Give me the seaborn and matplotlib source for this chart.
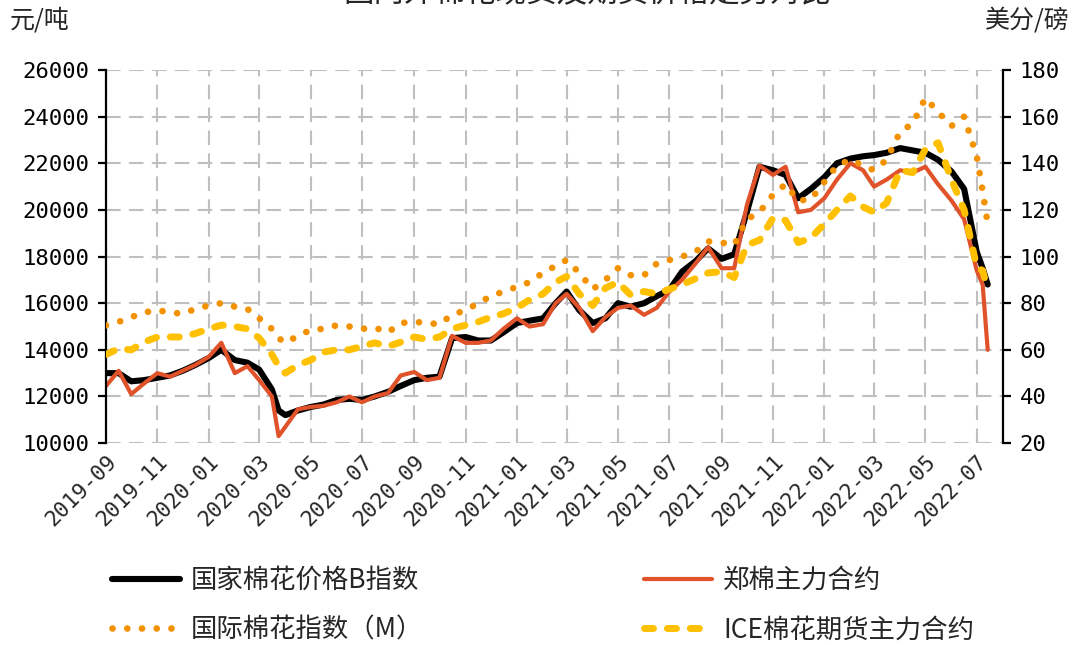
import pandas as pd
import numpy as np
import matplotlib
matplotlib.use('Agg')
import matplotlib.pyplot as plt
import matplotlib.dates as mdates
import seaborn as sns

# 日期（半月一个点，几处急变处加点）
datas = [
    '2019-09-01', '2019-09-16', '2019-10-01', '2019-10-16', '2019-11-01', '2019-11-16',
    '2019-12-01', '2019-12-16', '2020-01-01', '2020-01-16', '2020-02-01', '2020-02-16',
    '2020-03-01', '2020-03-16', '2020-03-24', '2020-04-01', '2020-04-16', '2020-05-01',
    '2020-05-16', '2020-06-01', '2020-06-16', '2020-07-01', '2020-07-16', '2020-08-01',
    '2020-08-16', '2020-09-01', '2020-09-16', '2020-10-01', '2020-10-16', '2020-11-01',
    '2020-11-16', '2020-12-01', '2020-12-16', '2021-01-01', '2021-01-16', '2021-02-01',
    '2021-02-16', '2021-03-01', '2021-03-16', '2021-04-01', '2021-04-16', '2021-05-01',
    '2021-05-16', '2021-06-01', '2021-06-16', '2021-07-01', '2021-07-16', '2021-08-01',
    '2021-08-16', '2021-09-01', '2021-09-16', '2021-10-01', '2021-10-16', '2021-11-01',
    '2021-11-16', '2021-12-01', '2021-12-16', '2022-01-01', '2022-01-16', '2022-02-01',
    '2022-02-16', '2022-03-01', '2022-03-16', '2022-04-01', '2022-04-16', '2022-05-01',
    '2022-05-16', '2022-06-01', '2022-06-16', '2022-07-01', '2022-07-08', '2022-07-14',
]

# 国家棉花价格B指数（元/吨）
indice_b = [
    13000, 13000, 12650, 12700, 12800, 12900, 13100, 13350, 13650, 14000, 13560, 13450,
    13150, 12300, 11400, 11200, 11400, 11550, 11650, 11850, 11900, 11850, 12000, 12200,
    12450, 12700, 12800, 12850, 14500, 14550, 14400, 14400, 14750, 15150, 15250, 15350,
    16000, 16500, 15700, 15150, 15350, 16000, 15850, 16000, 16300, 16570, 17350, 17800,
    18350, 17900, 18100, 19900, 21850, 21700, 21500, 20500, 20900, 21400, 22000, 22200,
    22300, 22350, 22450, 22650, 22550, 22450, 22150, 21650, 20900, 18200, 17500, 16800,
]

# 郑棉主力合约（元/吨）
zhengmian = [
    12450, 13100, 12100, 12550, 13000, 12850, 13100, 13350, 13700, 14300, 13000, 13300,
    12700, 12000, 10300, 10700, 11450, 11550, 11600, 11750, 12000, 11750, 12000, 12150,
    12900, 13050, 12700, 12800, 14600, 14300, 14300, 14400, 14900, 15350, 15000, 15100,
    16000, 16400, 15800, 14800, 15400, 15800, 15900, 15500, 15800, 16500, 17000, 17700,
    18400, 17500, 17500, 20200, 21900, 21500, 21850, 19900, 20000, 20500, 21300, 22000,
    21700, 21000, 21300, 21700, 21600, 21850, 21100, 20400, 19600, 17400, 16800, 14000,
]

# 国际棉花指数（M）（美分/磅）
indice_m = [
    70.5, 72, 74, 76, 77, 76, 75.5, 77.5, 79, 80, 78.5, 77.5,
    73.5, 69, 65, 63, 66, 68.5, 69, 70.5, 70, 69, 69.5, 67.5,
    71.5, 72, 71.5, 71, 75, 77, 80, 83, 85, 87, 89, 93,
    96, 98.5, 93, 86, 90, 95, 92, 92, 97, 98.5, 100, 102,
    106.5, 106, 105, 116, 119, 126.5, 131, 124, 124.5, 132, 139, 141.5,
    139, 137, 141.5, 153.5, 157, 168, 162, 156, 160, 143, 128, 114,
]

# ICE棉花期货主力合约（美分/磅）
ice = [
    58, 60.5, 60, 63.3, 65.5, 65.5, 65.5, 67, 69, 70.6, 70, 69,
    65, 58, 53, 50, 53.5, 55.6, 59, 60, 60, 61.5, 63, 61.5,
    63.3, 65.5, 64.5, 65.5, 69, 70.6, 72, 74, 75.5, 78, 81.5, 84,
    89, 91.5, 84, 79, 86.5, 89, 83.5, 85, 84, 86, 88, 90.5,
    93, 93.5, 91, 105, 107, 116.5, 115.5, 106, 108, 114, 120, 126,
    121.3, 119, 123, 137, 136, 146, 148.8, 133, 120, 95.5, 94, 85.7,
]

df = pd.DataFrame({
    'data': pd.to_datetime(datas),
    'b': indice_b,
    'zm': zhengmian,
    'm': indice_m,
    'ice': ice,
})

sns.set_theme(style="white")
plt.rcParams['font.family'] = ['Noto Sans CJK SC', 'DejaVu Sans']
fonte_num = 'DejaVu Sans Mono'

fig = plt.figure(figsize=(10.78, 6.45), dpi=100)
ax = fig.add_axes([0.0983, 0.313, 0.832, 0.5785])
ax2 = ax.twinx()

# eixo principal: B指数 e 郑棉
sns.lineplot(data=df, x='data', y='b', ax=ax, color='black', lw=4.4,
             solid_capstyle='round', label='国家棉花价格B指数', legend=False)
sns.lineplot(data=df, x='data', y='zm', ax=ax, color='#E0522A', lw=3.0,
             solid_capstyle='round', label='郑棉主力合约', legend=False)

# eixo secundário: M指数 e ICE
sns.lineplot(data=df, x='data', y='m', ax=ax2, color='#F39200', lw=4.8,
             linestyle=(0, (0.01, 2.2)), dash_capstyle='round',
             label='国际棉花指数（M）', legend=False)
sns.lineplot(data=df, x='data', y='ice', ax=ax2, color='#FFC000', lw=5,
             linestyle=(0, (1.3, 2.0)), dash_capstyle='round',
             label='ICE棉花期货主力合约', legend=False)

ax.set_ylim(10000, 26000)
ax.set_yticks(np.arange(10000, 26001, 2000))
ax2.set_ylim(20, 180)
ax2.set_yticks(np.arange(20, 181, 20))
ax.set_xlim(pd.Timestamp('2019-09-01'), pd.Timestamp('2022-08-01'))
ax.xaxis.set_major_locator(mdates.MonthLocator(bymonth=[1, 3, 5, 7, 9, 11]))
ax.xaxis.set_major_formatter(mdates.DateFormatter('%Y-%m'))

ax.grid(True, ls=(0, (7, 4)), color='#BFBFBF', lw=1.5)
ax.set_axisbelow(True)
ax.set_xlabel('')
ax.set_ylabel('')
ax2.set_ylabel('')

for a in (ax, ax2):
    for s in ('top', 'bottom', 'left', 'right'):
        a.spines[s].set_visible(False)
ax.spines['left'].set_visible(True)
ax.spines['left'].set_color('black')
ax.spines['left'].set_linewidth(1.6)
ax2.spines['right'].set_visible(True)
ax2.spines['right'].set_color('black')
ax2.spines['right'].set_linewidth(1.6)

ax.tick_params(axis='y', which='major', left=True, length=6, width=1.6, direction='out',
               labelsize=16, pad=6, colors='black')
ax2.tick_params(axis='y', which='major', right=True, length=6, width=1.6, direction='out',
                labelsize=16, pad=6, colors='black')
ax.tick_params(axis='x', length=0, labelsize=15.5, pad=6)
for lab in ax.get_yticklabels() + ax2.get_yticklabels():
    lab.set_fontfamily(fonte_num)
for lab in ax.get_xticklabels():
    lab.set_fontfamily(fonte_num)
    lab.set_rotation(45)
    lab.set_ha('right')
    lab.set_rotation_mode('anchor')

# unidades e título (cortado no topo como no original)
fig.text(0.009, 0.988, '元/吨', fontsize=18, va='top', ha='left')
fig.text(0.992, 0.988, '美分/磅', fontsize=18, va='top', ha='right')
fig.text(0.545, 0.986, '国内外棉花现货及期货价格走势对比', fontsize=22, va='bottom', ha='center')

# legenda: coluna 1 = B指数, M指数; coluna 2 = 郑棉, ICE
l1 = ax.get_lines()
l2 = ax2.get_lines()
handles = [l1[0], l2[0], l1[1], l2[1]]
labels = [h.get_label() for h in handles]
fig.legend(handles, labels, loc='upper left', bbox_to_anchor=(0.094, 0.137),
           ncol=2, frameon=False, fontsize=19, handlelength=2.6, handletextpad=0.4,
           columnspacing=8.35, labelspacing=0.85, borderaxespad=0)

fig.savefig('out.png', dpi=100)
